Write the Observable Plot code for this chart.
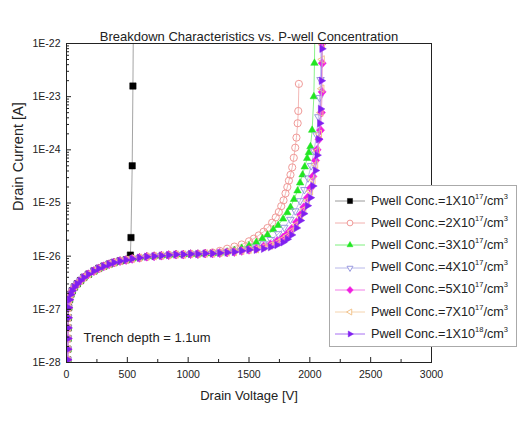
<!DOCTYPE html>
<html><head><meta charset="utf-8">
<script src="https://cdn.jsdelivr.net/npm/d3@7"></script>
<script src="https://cdn.jsdelivr.net/npm/@observablehq/plot@0.6"></script>
<style>
body{margin:0;background:#fff;font-family:"Liberation Sans",Arial,sans-serif;}
#wrap{position:relative;width:530px;height:426px;}
#legend{position:absolute;left:329px;top:185px;width:188px;height:162px;border:1px solid #aaa;background:#fff;box-sizing:border-box;padding-top:4px}
.row{display:flex;align-items:center;height:22.2px;}
.row svg{margin-left:5px;flex:none}
.row span{font-size:12.7px;color:#222;margin-left:4px;white-space:nowrap;line-height:1}
.row sup{font-size:7.5px;vertical-align:0;position:relative;top:-6px}
</style></head><body><div id="wrap"></div>
<script>
// ---- data (log10 of drain current) ----
const baseV = [10, 11, 12, 13, 14, 17, 24, 35, 47, 65, 88, 115, 142, 180, 225, 265, 306, 350, 390, 440, 490, 540, 600, 660, 720, 780, 840, 900, 960, 1020, 1080, 1140, 1200, 1260, 1320, 1380, 1440, 1500];
const baseLogI = [-27.95, -27.75, -27.55, -27.35, -27.16, -26.97, -26.82, -26.72, -26.65, -26.58, -26.52, -26.46, -26.40, -26.34, -26.28, -26.23, -26.19, -26.15, -26.12, -26.09, -26.07, -26.05, -26.03, -26.01, -26.00, -25.99, -25.98, -25.97, -25.97, -25.96, -25.96, -25.95, -25.95, -25.94, -25.93, -25.92, -25.90, -25.88];

const cutoffs = [490, 1140, 1260, 1440, 1500, 1500, 1500];

const v1e17 = [525, 530, 540, 546, 550];
const i1e17 = [-25.98, -25.65, -24.30, -22.80, -21.5];
const v2e17 = [1200, 1260, 1320, 1380, 1440, 1500, 1540, 1580, 1620, 1652, 1690, 1720, 1745, 1765, 1784, 1800, 1815, 1828, 1841, 1855, 1868, 1880, 1890, 1900, 1905, 1910];
const i2e17 = [-25.93, -25.90, -25.86, -25.82, -25.78, -25.72, -25.67, -25.61, -25.54, -25.47, -25.37, -25.27, -25.17, -25.06, -24.95, -24.82, -24.70, -24.58, -24.47, -24.33, -24.15, -23.96, -23.77, -23.50, -23.27, -22.76];
const v3e17 = [1320, 1380, 1440, 1500, 1560, 1610, 1652, 1700, 1740, 1780, 1815, 1841, 1870, 1899, 1920, 1940, 1958, 1978, 1992, 2005, 2019, 2033, 2038, 2042];
const i3e17 = [-25.92, -25.89, -25.85, -25.80, -25.74, -25.67, -25.60, -25.50, -25.42, -25.30, -25.18, -25.08, -24.93, -24.77, -24.62, -24.47, -24.32, -24.16, -24.05, -23.94, -23.63, -23.00, -22.37, -21.6];
const v4e17 = [1500, 1560, 1620, 1680, 1740, 1790, 1840, 1880, 1920, 1955, 1985, 2010, 2035, 2055, 2070, 2080, 2088, 2095];
const i4e17 = [-25.87, -25.83, -25.77, -25.69, -25.58, -25.46, -25.31, -25.15, -24.96, -24.75, -24.53, -24.30, -24.02, -23.72, -23.38, -23.02, -22.68, -21.6];
const v5e17 = [1560, 1620, 1677, 1730, 1780, 1815, 1850, 1890, 1923, 1950, 1980, 2005, 2025, 2047, 2060, 2075, 2088, 2095, 2101, 2102, 2103, 2106];
const i5e17 = [-25.86, -25.82, -25.78, -25.72, -25.65, -25.58, -25.49, -25.36, -25.22, -25.08, -24.90, -24.72, -24.50, -24.20, -24.00, -23.80, -23.63, -23.30, -22.91, -22.37, -22.00, -21.5];
const v7e17 = [1560, 1620, 1677, 1730, 1780, 1815, 1850, 1890, 1923, 1950, 1980, 2005, 2025, 2047, 2062, 2078, 2090, 2098, 2101, 2103, 2106];
const i7e17 = [-25.87, -25.83, -25.80, -25.75, -25.68, -25.62, -25.53, -25.41, -25.27, -25.13, -24.96, -24.78, -24.57, -24.28, -24.02, -23.70, -23.30, -22.85, -22.30, -22.02, -21.5];
const v1e18 = [1560, 1620, 1677, 1730, 1780, 1815, 1850, 1890, 1923, 1950, 1980, 2005, 2025, 2046, 2060, 2072, 2082, 2088, 2095, 2100, 2103];
const i1e18 = [-25.88, -25.86, -25.83, -25.79, -25.74, -25.68, -25.60, -25.47, -25.33, -25.20, -25.05, -24.90, -24.68, -24.39, -24.10, -23.80, -23.50, -23.23, -22.70, -22.10, -21.5];

const mantissas = ["1", "2", "3", "4", "5", "7", "1"];
const exponents = ["17", "17", "17", "17", "17", "17", "18"];
const extraV = [v1e17, v2e17, v3e17, v4e17, v5e17, v7e17, v1e18];
const extraI = [i1e17, i2e17, i3e17, i4e17, i5e17, i7e17, i1e18];

const xTicks = [0, 500, 1000, 1500, 2000, 2500, 3000];
const xMinorTicks = [250, 750, 1250, 1750, 2250, 2750];
const yExps = [-28, -27, -26, -25, -24, -23, -22];

const titleText = "Breakdown Characteristics vs. P-well Concentration";
const xLabel = "Drain Voltage [V]";
const yLabel = "Drain Current [A]";
const noteText = "Trench depth = 1.1um";

// ---- styles ----
function tri(angle){
  return {draw(ctx, size){
    const r = Math.sqrt(size / Math.PI) * 1.2;
    for (let k = 0; k < 3; k++){
      const a = angle + k * 2 * Math.PI / 3;
      const x = r * Math.cos(a), y = r * Math.sin(a);
      if (k === 0) ctx.moveTo(x, y); else ctx.lineTo(x, y);
    }
    ctx.closePath();
  }};
}
const diamond = {draw(ctx, size){
  const r = Math.sqrt(size / Math.PI) * 1.25;
  ctx.moveTo(0, -r); ctx.lineTo(r * 0.9, 0); ctx.lineTo(0, r); ctx.lineTo(-r * 0.9, 0); ctx.closePath();
}};
const styles = [
  {symbol: d3.symbolSquare, color: "#000000", line: "#9a9a9a", hollow: false},
  {symbol: d3.symbolCircle, color: "#f09a98", line: "#f2b0ae", hollow: true},
  {symbol: tri(-Math.PI/2), color: "#22e622", line: "#7ef07e", hollow: false},
  {symbol: tri(Math.PI/2), color: "#9a9ae0", line: "#b8b8ea", hollow: true},
  {symbol: diamond, color: "#f01ee0", line: "#f27ee8", hollow: false},
  {symbol: tri(Math.PI), color: "#f2c48e", line: "#f5d4ae", hollow: true},
  {symbol: tri(0), color: "#8020f0", line: "#a870f2", hollow: false}
];

// ---- build series ----
const series = mantissas.map((m, s) => {
  const pts = [];
  baseV.forEach((v, i) => { if (v <= cutoffs[s]) pts.push({V: v, I: Math.pow(10, baseLogI[i])}); });
  extraV[s].forEach((v, i) => pts.push({V: v, I: Math.pow(10, extraI[s][i])}));
  return pts;
});

const yMajor = yExps.map(e => Math.pow(10, e));
const yMinor = [];
yExps.slice(0, -1).forEach(e => { for (let k = 2; k <= 9; k++) yMinor.push(k * Math.pow(10, e)); });

const marks = [];
series.forEach((pts, s) => {
  const st = styles[s];
  marks.push(Plot.line(pts, {x: "V", y: "I", stroke: st.line, strokeWidth: 0.9, clip: true}));
  marks.push(Plot.dot(pts, {x: "V", y: "I", symbol: st.symbol, r: 3.6, clip: true,
    fill: st.hollow ? "none" : st.color, stroke: st.color, strokeWidth: st.hollow ? 1 : 0.5}));
});

const chart = Plot.plot({
  width: 530, height: 426,
  marginTop: 43, marginBottom: 64, marginLeft: 66, marginRight: 99,
  style: {fontFamily: "'Liberation Sans', Arial, sans-serif", fontSize: "10.5px", color: "#222", background: "#fff", overflow: "visible"},
  x: {domain: [0, 3000]},
  y: {type: "log", domain: [1e-28, 1e-22]},
  marks: [
    ...marks,
    Plot.frame({stroke: "#222", strokeWidth: 1}),
    Plot.axisX({ticks: xTicks, tickSize: 0, tickPadding: 8, tickFormat: d => String(d), label: null}),
    Plot.axisX({ticks: xTicks, tickSize: -5, tickFormat: () => "", label: null}),
    Plot.axisX({ticks: xMinorTicks, tickSize: -3, tickFormat: () => "", label: null}),
    Plot.axisY({ticks: yMajor, tickSize: 0, tickPadding: 6, tickFormat: d => "1E" + Math.round(Math.log10(d)), label: null}),
    Plot.axisY({ticks: yMajor, tickSize: -5, tickFormat: () => "", label: null}),
    Plot.axisY({ticks: yMinor, tickSize: -3, tickFormat: () => "", label: null}),
    Plot.text([titleText], {frameAnchor: "top", dy: -12, fontSize: 13, fill: "#222"}),
    Plot.text([xLabel], {frameAnchor: "bottom", dy: 37, fontSize: 13, fill: "#222"}),
    Plot.text([yLabel], {frameAnchor: "left", dx: -48, dy: 8, rotate: -90, fontSize: 14.5, fill: "#222"}),
    Plot.text([noteText], {frameAnchor: "bottom-left", dx: 17, dy: -21, textAnchor: "start", fontSize: 13, fill: "#222"})
  ]
});
document.getElementById("wrap").appendChild(chart);

// ---- legend ----
const legend = d3.select("#wrap").append("div").attr("id", "legend");
mantissas.forEach((m, s) => {
  const st = styles[s];
  const row = legend.append("div").attr("class", "row");
  const svg = row.append("svg").attr("width", 32).attr("height", 14);
  svg.append("line").attr("x1", 0).attr("x2", 30).attr("y1", 7).attr("y2", 7).attr("stroke", st.line).attr("stroke-width", 1);
  svg.append("path").attr("transform", "translate(15,7)").attr("d", d3.symbol(st.symbol, 26)())
    .attr("fill", st.hollow ? "#fff" : st.color).attr("stroke", st.color).attr("stroke-width", st.hollow ? 1 : 0.5);
  row.append("span").html(`Pwell Conc.=${m}X10<sup>${exponents[s]}</sup>/cm<sup>3</sup>`);
});
</script></body></html>
